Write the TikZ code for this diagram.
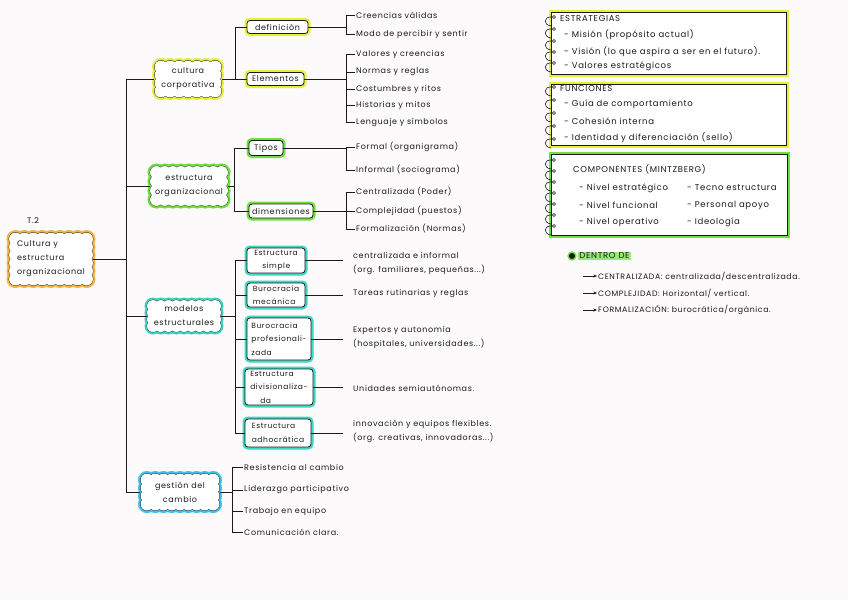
\documentclass[tikz,border=0pt]{standalone}
\usepackage{fontspec}
\setmainfont{Poppins}
\newfontfamily\hw[LetterSpace=8]{Poppins}
\usetikzlibrary{arrows.meta}
\definecolor{hlyellow}{HTML}{E9EE3A}
\definecolor{hlgreen}{HTML}{6EE040}
\definecolor{hlteal}{HTML}{3FD6C2}
\definecolor{hlblue}{HTML}{3EC2E8}
\definecolor{hlorange}{HTML}{F6B445}
\definecolor{ink}{HTML}{1A1A1A}
\definecolor{paper}{HTML}{FCFAFB}
% scalloped (hand-drawn cloud) outline: centre x, centre y, width, height, colour, puff radius
\newcommand\scpass[1]{%
  \path[#1] foreach \i in {0,...,\nx} {({\cx-\hx+2*\hx*\i/\nx},{\cy-\hy}) circle[radius=\pr] ({\cx-\hx+2*\hx*\i/\nx},{\cy+\hy}) circle[radius=\pr]};
  \path[#1] foreach \j in {1,...,\nyy} {({\cx-\hx},{\cy-\hy+2*\hy*\j/\ny}) circle[radius=\pr] ({\cx+\hx},{\cy-\hy+2*\hy*\j/\ny}) circle[radius=\pr]};
}
\newcommand\scallop[6]{%
  \pgfmathsetmacro\cx{#1}\pgfmathsetmacro\cy{#2}\pgfmathsetmacro\pr{#6}%
  \pgfmathsetmacro\hx{#3/2-#6}%
  \pgfmathsetmacro\hy{#4/2-#6}%
  \pgfmathtruncatemacro\nx{max(1,round(2*\hx/(1.3*#6)))}%
  \pgfmathtruncatemacro\ny{max(2,round(2*\hy/(1.3*#6)))}%
  \pgfmathtruncatemacro\nyy{\ny-1}%
  \scpass{draw=#5, line width=5pt}%
  \scpass{draw=ink, line width=0.8pt}%
  \scpass{fill=white}%
  \fill[white] ({\cx-\hx},{\cy-\hy}) rectangle ({\cx+\hx},{\cy+\hy});
}
\begin{document}
\begin{tikzpicture}[x=1pt,y=-1pt,
  every node/.style={font=\hw\fontsize{8}{14}\selectfont, text=ink},
  conn/.style={draw=ink, line width=0.8pt},
  blob/.style={rectangle, inner sep=0pt, align=center},
  tag/.style={draw=ink, line width=0.8pt, fill=white, rounded corners=3pt, inner sep=1.5pt, preaction={draw=#1, line width=5pt}},
  mtag/.style={tag=hlteal, align=left, font=\hw\fontsize{7.5}{13.5}\selectfont},
  leaf/.style={anchor=west, inner sep=1pt},
  card/.style={draw=ink, line width=0.8pt, fill=white, preaction={draw=#1, line width=5pt}},
  small/.style={font=\hw\fontsize{8.5}{12}\selectfont},
  tiny/.style={font=\hw\fontsize{7.8}{12}\selectfont},
]
\useasboundingbox[fill=paper] (0,0) rectangle (848,600);

% ---------- root and main clouds ----------
\node (t2) at (33,221) {T.2};
\scallop{51}{259}{84}{53}{hlorange}{6.5}
\node[blob, minimum width=84pt, minimum height=53pt, align=left] (root) at (51,259) {Cultura y\\estructura\\organizacional};
\scallop{188}{79}{67}{37}{hlyellow}{6.5}
\node[blob, minimum width=67pt, minimum height=37pt] (cc) at (188,79) {cultura\\corporativa};
\scallop{189}{186}{78}{40}{hlgreen}{6.5}
\node[blob, minimum width=78pt, minimum height=40pt] (eo) at (189,186) {estructura\\organizacional};
\scallop{184}{316}{74}{32}{hlteal}{6}
\node[blob, minimum width=74pt, minimum height=32pt] (me) at (184,316) {modelos\\estructurales};
\scallop{180}{492}{79}{37}{hlblue}{6.5}
\node[blob, minimum width=79pt, minimum height=37pt] (gc) at (180,492) {gestión del\\cambio};

\coordinate (T) at (126,0);
\draw[conn] (root.east) -- (T |- root.east);
\draw[conn] (cc.west) -- (T |- cc.west) -- (T |- gc.west) -- (gc.west);
\draw[conn] (eo.west) -- (T |- eo.west);
\draw[conn] (me.west) -- (T |- me.west);

% ---------- cultura corporativa ----------
\node[tag=hlyellow, minimum width=61pt, minimum height=13pt] (def) at (277.5,27) {definición};
\node[tag=hlyellow, minimum width=57pt, minimum height=13pt] (ele) at (275.5,79) {Elementos};
\coordinate (B1) at (235,0);
\draw[conn] (cc.east) -- (B1 |- cc.east);
\draw[conn] (def.west) -- (B1 |- def.west) -- (B1 |- ele.west) -- (ele.west);

\coordinate (L) at (346,0);
\node[leaf] (d1) at (355,15) {Creencias válidas};
\node[leaf] (d2) at (355,34) {Modo de percibir y sentir};
\draw[conn] (def.east) -- (L |- def.east);
\draw[conn] (d1.west) -- (L |- d1.west) -- (L |- d2.west) -- (d2.west);

\node[leaf] (e1) at (355,54) {Valores y creencias};
\node[leaf] (e2) at (355,72) {Normas y reglas};
\node[leaf] (e3) at (355,89) {Costumbres y ritos};
\node[leaf] (e4) at (355,105) {Historias y mitos};
\node[leaf] (e5) at (355,122) {Lenguaje y símbolos};
\draw[conn] (ele.east) -- (L |- ele.east);
\draw[conn] (e1.west) -- (L |- e1.west) -- (L |- e5.west) -- (e5.west);
\foreach \n in {e2,e3,e4} \draw[conn] (L |- \n.west) -- (\n.west);

% ---------- estructura organizacional ----------
\node[tag=hlgreen, minimum width=34pt, minimum height=15pt] (tip) at (266,148) {Tipos};
\node[tag=hlgreen, minimum width=64pt, minimum height=14pt] (dim) at (281,211) {dimensiones};
\coordinate (B2) at (234,0);
\draw[conn] (eo.east) -- (B2 |- eo.east);
\draw[conn] (tip.west) -- (B2 |- tip.west) -- (B2 |- dim.west) -- (dim.west);

\node[leaf] (f1) at (355,147) {Formal (organigrama)};
\node[leaf] (f2) at (355,170) {Informal (sociograma)};
\draw[conn] (tip.east) -- (L |- tip.east);
\draw[conn] (f1.west) -- (L |- f1.west) -- (L |- f2.west) -- (f2.west);

\node[leaf] (g1) at (355,192) {Centralizada (Poder)};
\node[leaf] (g2) at (355,211) {Complejidad (puestos)};
\node[leaf] (g3) at (355,229) {Formalización (Normas)};
\draw[conn] (dim.east) -- (L |- dim.east);
\draw[conn] (g1.west) -- (L |- g1.west) -- (L |- g3.west) -- (g3.west);
\draw[conn] (L |- g2.west) -- (g2.west);

% ---------- modelos estructurales ----------
\node[mtag, minimum width=58pt, minimum height=25pt] (sim) at (276,260.5) {Estructura\\\hspace*{8pt}simple};
\node[mtag, minimum width=58pt, minimum height=24pt] (mec) at (276,295) {Burocracia\\mecánica};
\node[mtag, minimum width=64pt, minimum height=42pt] (pro) at (279,339) {Burocracia\\profesionali-\\zada};
\node[mtag, minimum width=68pt, minimum height=36pt] (div) at (279,387) {Estructura\\divisionaliza-\\\hspace*{10pt}da};
\node[mtag, minimum width=66pt, minimum height=28pt] (adh) at (278,433) {Estructura\\adhocrática};
\coordinate (B3) at (235,0);
\draw[conn] (me.east) -- (B3 |- me.east);
\draw[conn] (sim.west) -- (B3 |- sim.west) -- (B3 |- adh.west) -- (adh.west);
\foreach \n in {mec,pro,div} \draw[conn] (B3 |- \n.west) -- (\n.west);

\node[anchor=north west, align=left, inner sep=1pt] (xs) at (352,251) {centralizada e informal\\(org. familiares, pequeñas...)};
\node[leaf] (xm) at (352,294) {Tareas rutinarias y reglas};
\node[anchor=north west, align=left, inner sep=1pt] (xp) at (352,325) {Expertos y autonomía\\(hospitales, universidades...)};
\node[leaf] (xd) at (352,388) {Unidades semiautónomas.};
\node[anchor=north west, align=left, inner sep=1pt] (xa) at (352,419) {innovación y equipos flexibles.\\(org. creativas, innovadoras...)};
\foreach \b/\t in {sim/xs,mec/xm,pro/xp,div/xd,adh/xa}
  \draw[conn] (\b.east) -- ([xshift=-9pt]\t.west |- \b.east);

% ---------- gestión del cambio ----------
\coordinate (G) at (232,0);
\node[leaf] (r1) at (243,467) {Resistencia al cambio};
\node[leaf] (r2) at (243,490) {Liderazgo participativo};
\node[leaf] (r3) at (243,511) {Trabajo en equipo};
\node[leaf] (r4) at (243,532) {Comunicación clara.};
\draw[conn] (gc.east) -- (G |- gc.east);
\draw[conn] (r1.west) -- (G |- r1.west) -- (G |- r4.west) -- (r4.west);
\foreach \n in {r2,r3} \draw[conn] (G |- \n.west) -- (\n.west);

% ---------- right cards ----------
\node[card=hlyellow, minimum width=235pt, minimum height=62pt] (s1) at (668.5,43) {};
\node[card=hlyellow, minimum width=235pt, minimum height=61pt] (s2) at (668.5,114.5) {};
\node[card=hlgreen, minimum width=236pt, minimum height=81pt] (s3) at (669,194.5) {};

\begin{scope}[every node/.append style={small}]
\node[leaf] (s1a) at (559,19) {ESTRATEGIAS};
\node[leaf] (s1b) at (563,35) {- Misión (propósito actual)};
\node[leaf] (s1c) at (563,52) {- Visión (lo que aspira a ser en el futuro).};
\node[leaf] (s1d) at (563,66) {- Valores estratégicos};
\node[leaf] (s2a) at (559,89) {FUNCIONES};
\node[leaf] (s2b) at (563,104) {- Guía de comportamiento};
\node[leaf] (s2c) at (563,121) {- Cohesión interna};
\node[leaf] (s2d) at (563,138) {- Identidad y diferenciación (sello)};
\node[leaf] (s3a) at (572,169) {COMPONENTES (MINTZBERG)};
\node[leaf] (s3b) at (578,188) {- Nivel estratégico};
\node[leaf] (s3c) at (578,205) {- Nivel funcional};
\node[leaf] (s3d) at (578,222) {- Nivel operativo};
\node[leaf] (s3e) at (686,188) {- Tecno estructura};
\node[leaf] (s3f) at (686,205) {- Personal apoyo};
\node[leaf] (s3g) at (686,222) {- Ideología};
\end{scope}

% spiral rings
\foreach \y in {17,29,41,52,63, 87,100,113,126,139, 160,171,182,193,204,215,226} {
  \draw[ink, line width=0.6pt, fill=white] (554,\y) circle (1.5);
  \draw[ink, line width=0.6pt] (552.5,\y) .. controls (543,\y-1) and (543,\y+8) .. (551,\y+9);
}

% ---------- dentro de ----------
\node[circle, fill=ink, inner sep=0pt, minimum size=6pt, preaction={draw=hlgreen, line width=3pt}] (dot) at (572,256) {};
\node[leaf, fill=hlgreen!70, inner sep=1.2pt, small] (dd) at (578,256) {DENTRO DE};
\begin{scope}[every node/.append style={tiny}]
\node[leaf] (a1) at (597,276) {CENTRALIZADA: centralizada/descentralizada.};
\node[leaf] (a2) at (597,293) {COMPLEJIDAD: Horizontal/ vertical.};
\node[leaf] (a3) at (597,310) {FORMALIZACIÓN: burocrática/orgánica.};
\end{scope}
\foreach \n in {a1,a2,a3}
  \draw[conn, -{Stealth[length=3.5pt,width=3pt]}] ([xshift=-14pt]\n.west) -- (\n.west);
\end{tikzpicture}
\end{document}
